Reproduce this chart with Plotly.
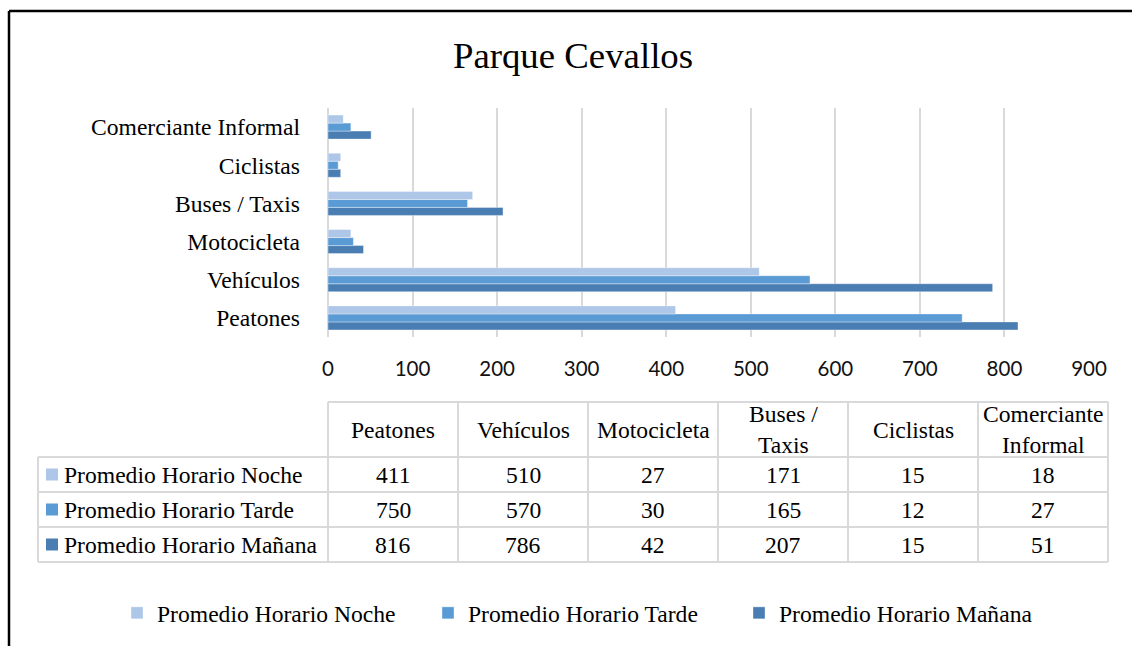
import plotly.graph_objects as go

# Data
categorias = ["Peatones", "Vehículos", "Motocicleta", "Buses / Taxis", "Ciclistas", "Comerciante Informal"]
encabezados_tabla = ["Peatones", "Vehículos", "Motocicleta", "Buses /<br>Taxis", "Ciclistas", "Comerciante<br>Informal"]
noche = [411, 510, 27, 171, 15, 18]
tarde = [750, 570, 30, 165, 12, 27]
manana = [816, 786, 42, 207, 15, 51]
x_ticks = [0, 100, 200, 300, 400, 500, 600, 700, 800, 900]

# (name, values, colour) in drawing order: bottom bar of each group first
series = [
    ("Promedio Horario Mañana", manana, "#4A7EB3"),
    ("Promedio Horario Tarde", tarde, "#5B9BD5"),
    ("Promedio Horario Noche", noche, "#AEC6E7"),
]

W, H = 1132, 646
px = lambda v: v / W          # pixel -> paper fraction (x)
py = lambda v: 1 - v / H      # pixel -> paper fraction (y)

SERIF = "Liberation Serif, Times New Roman, serif"
GRID = "#D9D9D9"
TXT = 23.6

fig = go.Figure()
for nombre, valores, color in series:
    fig.add_trace(go.Bar(
        y=categorias, x=valores, name=nombre, orientation="h",
        marker=dict(color=color, line=dict(color="rgba(255,255,255,0.6)", width=0.6)),
    ))

# ---- data table under the chart (grid lines + text) ----
col_x = [328, 458, 588, 718, 848, 978, 1108]   # value columns
lbl_x0 = 38                                    # left edge of series-label column
row_y = [402, 457, 492, 527, 562]              # header top, row separators, bottom

shapes = []
annotations = []
line_style = dict(color=GRID, width=2)

# horizontal rules
shapes.append(dict(type="line", xref="paper", yref="paper", x0=px(col_x[0]), x1=px(col_x[-1]),
                   y0=py(row_y[0]), y1=py(row_y[0]), line=line_style))
for yv in row_y[1:]:
    shapes.append(dict(type="line", xref="paper", yref="paper", x0=px(lbl_x0), x1=px(col_x[-1]),
                       y0=py(yv), y1=py(yv), line=line_style))
# vertical rules
shapes.append(dict(type="line", xref="paper", yref="paper", x0=px(lbl_x0), x1=px(lbl_x0),
                   y0=py(row_y[1]), y1=py(row_y[-1]), line=line_style))
for xv in col_x:
    shapes.append(dict(type="line", xref="paper", yref="paper", x0=px(xv), x1=px(xv),
                       y0=py(row_y[0]), y1=py(row_y[-1]), line=line_style))

# header cells
for i, h in enumerate(encabezados_tabla):
    annotations.append(dict(xref="paper", yref="paper", x=px((col_x[i] + col_x[i + 1]) / 2),
                            y=py((row_y[0] + row_y[1]) / 2), text=h, showarrow=False,
                            xanchor="center", yanchor="middle",
                            font=dict(family=SERIF, size=TXT, color="black")))

# body rows: Noche, Tarde, Mañana (top to bottom)
for r, (nombre, valores, color) in enumerate(reversed(series)):
    yc = (row_y[r + 1] + row_y[r + 2]) / 2
    shapes.append(dict(type="rect", xref="paper", yref="paper", x0=px(46), x1=px(58),
                       y0=py(yc - 6), y1=py(yc + 6), fillcolor=color, line=dict(width=0)))
    annotations.append(dict(xref="paper", yref="paper", x=px(62), y=py(yc), text=nombre,
                            showarrow=False, xanchor="left", yanchor="middle",
                            font=dict(family=SERIF, size=TXT, color="black")))
    for i, v in enumerate(valores):
        annotations.append(dict(xref="paper", yref="paper", x=px((col_x[i] + col_x[i + 1]) / 2),
                                y=py(yc), text=str(v), showarrow=False,
                                xanchor="center", yanchor="middle",
                                font=dict(family=SERIF, size=TXT, color="black")))

# outer frame (left and top edges)
frame = dict(color="black", width=2.5)
shapes.append(dict(type="line", xref="paper", yref="paper", x0=px(9), x1=px(9), y0=0, y1=py(11), line=frame))
shapes.append(dict(type="line", xref="paper", yref="paper", x0=px(9), x1=1, y0=py(11), y1=py(11), line=frame))

fig.update_layout(
    width=W, height=H,
    margin=dict(l=0, r=0, t=0, b=0, autoexpand=False),
    paper_bgcolor="white", plot_bgcolor="white",
    barmode="group", bargap=0.37, bargroupgap=0,
    title=dict(text="Parque Cevallos", x=px(573), xanchor="center", y=py(55), yanchor="middle",
               font=dict(family=SERIF, size=36.8, color="black")),
    xaxis=dict(domain=[px(328), px(1089)], range=[0, 900], tickvals=x_ticks, automargin=False,
               showgrid=True, gridcolor=GRID, gridwidth=2, zeroline=True, zerolinecolor=GRID,
               zerolinewidth=2, showline=False, ticks="", ticklabelstandoff=17,
               tickfont=dict(family="Lato, Open Sans, sans-serif", size=20.5, color="#111")),
    yaxis=dict(domain=[py(337), py(108)], type="category", categoryorder="array", automargin=False,
               categoryarray=categorias, showgrid=False, ticks="", ticklabelstandoff=27,
               tickfont=dict(family=SERIF, size=TXT, color="black")),
    legend=dict(orientation="h", traceorder="reversed", x=px(117), xanchor="left",
                y=py(613), yanchor="middle", font=dict(family=SERIF, size=TXT, color="black"),
                entrywidth=266, entrywidthmode="pixels", bgcolor="rgba(0,0,0,0)"),
    shapes=shapes,
    annotations=annotations,
)

fig.write_html("out.html")
